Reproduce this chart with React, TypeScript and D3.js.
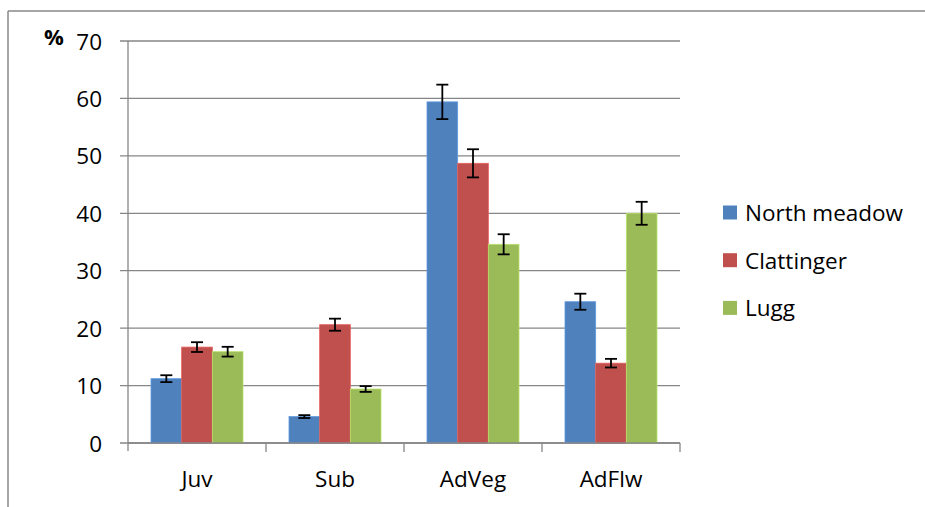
import React from "react";
import * as d3 from "d3";

const categories = ["Juv", "Sub", "AdVeg", "AdFlw"];
const seriesNames = ["North meadow", "Clattinger", "Lugg"];
const northMeadow = [11.2, 4.6, 59.4, 24.6];
const clattinger = [16.7, 20.6, 48.7, 13.9];
const lugg = [15.9, 9.4, 34.6, 40.0];
const northMeadowErr = [0.6, 0.25, 3.0, 1.4];
const clattingerErr = [0.85, 1.05, 2.45, 0.75];
const luggErr = [0.85, 0.5, 1.75, 2.0];
const yTicks = [0, 10, 20, 30, 40, 50, 60, 70];
const colors = ["#4F81BD", "#C0504D", "#9BBB59"];

const W = 925;
const H = 507;
const plot = { left: 128, right: 680, top: 41, bottom: 443 };
const FONT = "'Open Sans', 'Noto Sans', sans-serif";

export default function App() {
  const values = [northMeadow, clattinger, lugg];
  const errs = [northMeadowErr, clattingerErr, luggErr];
  const x = d3.scaleBand<string>().domain(categories).range([plot.left, plot.right]).paddingInner(0).paddingOuter(0);
  const inner = d3
    .scaleBand<number>()
    .domain([0, 1, 2])
    .range([0, x.bandwidth()])
    .paddingOuter(0.75)
    .paddingInner(0);
  const y = d3.scaleLinear().domain([0, 70]).range([plot.bottom, plot.top]);
  const gray = "#868686";
  const bw = inner.bandwidth();

  return (
    <div style={{ position: "fixed", left: 0, top: 0 }}>
      <svg width={W} height={H} style={{ display: "block", background: "#fff" }}>
        {/* outer border */}
        <line x1={8} y1={11} x2={W} y2={11} stroke="#888" strokeWidth={1.5} />
        <line x1={8} y1={11} x2={8} y2={H} stroke="#888" strokeWidth={1.5} />
        {/* gridlines & y ticks */}
        {yTicks.map((t) => (
          <g key={t}>
            <line x1={plot.left - 8} x2={plot.right} y1={y(t)} y2={y(t)} stroke={gray} strokeWidth={1.3} />
            <text
              x={102}
              y={y(t)}
              textAnchor="end"
              dominantBaseline="central"
              fontFamily={FONT}
              fontSize={22.5}
              fill="#000"
            >
              {t}
            </text>
          </g>
        ))}
        <text x={54} y={36} textAnchor="middle" dominantBaseline="central" fontFamily={FONT} fontSize={22} fontWeight="bold">
          %
        </text>
        {/* y axis */}
        <line x1={plot.left} x2={plot.left} y1={plot.top} y2={plot.bottom + 8} stroke={gray} strokeWidth={1.3} />
        {/* x tick marks */}
        {categories.map((c) => (
          <line
            key={c}
            x1={(x(c) as number) + x.bandwidth()}
            x2={(x(c) as number) + x.bandwidth()}
            y1={plot.bottom}
            y2={plot.bottom + 9}
            stroke={gray}
            strokeWidth={1.3}
          />
        ))}
        {/* bars */}
        {categories.map((c, ci) =>
          values.map((vals, si) => {
            const bx = (x(c) as number) + (inner(si) as number);
            return (
              <rect
                key={c + si}
                x={bx}
                y={y(vals[ci])}
                width={bw}
                height={y(0) - y(vals[ci])}
                fill={colors[si]}
                stroke={d3.color(colors[si])!.brighter(0.5).toString()}
                strokeWidth={0.8}
              />
            );
          })
        )}
        {/* error bars */}
        {categories.map((c, ci) =>
          values.map((vals, si) => {
            const cx = (x(c) as number) + (inner(si) as number) + bw / 2;
            const hi = y(vals[ci] + errs[si][ci]);
            const lo = y(vals[ci] - errs[si][ci]);
            return (
              <g key={"e" + c + si} stroke="#000" strokeWidth={1.8}>
                <line x1={cx} x2={cx} y1={hi} y2={lo} />
                <line x1={cx - 6} x2={cx + 6} y1={hi} y2={hi} />
                <line x1={cx - 6} x2={cx + 6} y1={lo} y2={lo} />
              </g>
            );
          })
        )}
        {/* x axis line */}
        <line x1={plot.left} x2={plot.right} y1={plot.bottom} y2={plot.bottom} stroke={gray} strokeWidth={1.3} />
        {/* category labels */}
        {categories.map((c) => (
          <text
            key={"l" + c}
            x={(x(c) as number) + x.bandwidth() / 2}
            y={478}
            textAnchor="middle"
            dominantBaseline="central"
            fontFamily={FONT}
            fontSize={22.5}
          >
            {c}
          </text>
        ))}
        {/* legend */}
        {seriesNames.map((n, i) => (
          <g key={n}>
            <rect x={723} y={205.5 + i * 47.7} width={14} height={14} fill={colors[i]} />
            <text x={745} y={212.5 + i * 47.7} dominantBaseline="central" fontFamily={FONT} fontSize={22.5}>
              {n}
            </text>
          </g>
        ))}
      </svg>
    </div>
  );
}
